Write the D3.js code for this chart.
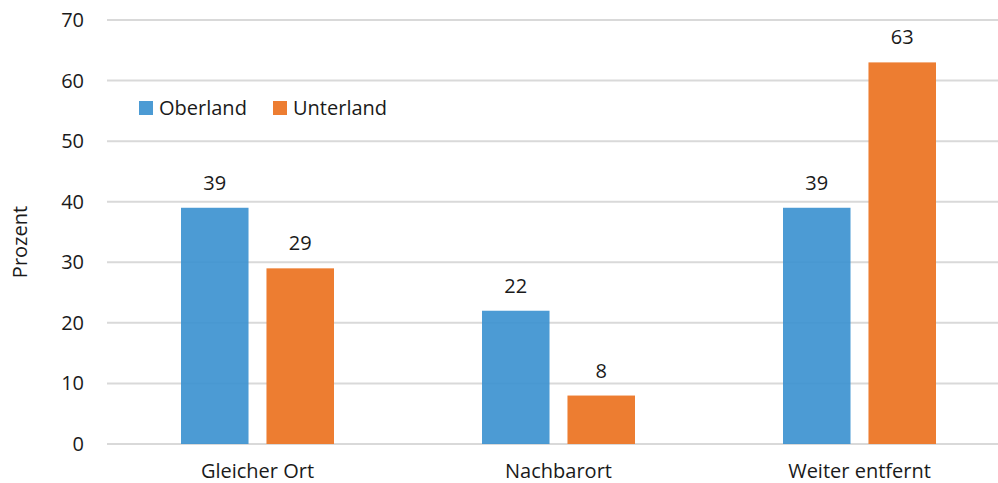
<!DOCTYPE html>
<html>
<head>
<meta charset="utf-8">
<script src="https://cdn.jsdelivr.net/npm/d3@7"></script>
<style>
  body { margin: 0; background: #fff; }
  svg text { font-family: "Open Sans", sans-serif; fill: #1a1a1a; }
</style>
</head>
<body>
<svg id="chart" width="998" height="483"></svg>
<script>
// data
var categories = ["Gleicher Ort", "Nachbarort", "Weiter entfernt"];
var seriesNames = ["Oberland", "Unterland"];
var oberland = [39, 22, 39];
var unterland = [29, 8, 63];
var yTicks = [0, 10, 20, 30, 40, 50, 60, 70];
var colors = { Oberland: "#3d92d0", Unterland: "#ed7d31" };

var svg = d3.select("#chart");
var fontSize = 20;

// plot area (right edge runs off the picture, as in the reference)
// NB: "top" clashes with window.top, hence plotTop
var plotLeft = 107, plotRight = 1010, plotTop = 20, plotBottom = 444;

var x0 = d3.scaleBand().domain(categories).range([plotLeft, plotRight]);
var x1 = d3.scaleBand().domain(seriesNames)
    .range([74, x0.bandwidth() - 74])
    .paddingInner(0.21);
var y = d3.scaleLinear().domain([0, 70]).range([plotBottom, plotTop]);

// gridlines
svg.append("g")
  .selectAll("line")
  .data(yTicks)
  .enter()
  .append("line")
    .attr("x1", plotLeft)
    .attr("x2", plotRight)
    .attr("y1", function(d) { return y(d); })
    .attr("y2", function(d) { return y(d); })
    .attr("stroke", "#d9d9d9")
    .attr("stroke-width", 2);

// y tick labels
svg.append("g")
  .selectAll("text")
  .data(yTicks)
  .enter()
  .append("text")
    .attr("x", 84)
    .attr("y", function(d) { return y(d); })
    .attr("dy", "0.35em")
    .attr("text-anchor", "end")
    .style("font-size", fontSize + "px")
    .text(function(d) { return d; });

// y axis title
svg.append("text")
  .attr("transform", "translate(27," + ((plotTop + plotBottom) / 2 + 10) + ") rotate(-90)")
  .attr("text-anchor", "middle")
  .style("font-size", fontSize + "px")
  .text("Prozent");

// rows: one per category
var rows = categories.map(function(c, i) {
  return { cat: c, values: [
    { name: "Oberland", value: oberland[i] },
    { name: "Unterland", value: unterland[i] }
  ] };
});

var groups = svg.append("g")
  .selectAll("g")
  .data(rows)
  .enter()
  .append("g")
    .attr("transform", function(d) { return "translate(" + x0(d.cat) + ",0)"; });

// blue bars are a touch see-through in the reference (gridlines show through)
groups.selectAll("rect")
  .data(function(d) { return d.values; })
  .enter()
  .append("rect")
    .attr("x", function(d) { return x1(d.name); })
    .attr("width", x1.bandwidth())
    .attr("y", function(d) { return y(d.value); })
    .attr("height", function(d) { return y(0) - y(d.value); })
    .attr("fill", function(d) { return colors[d.name]; })
    .attr("fill-opacity", function(d) { return d.name == "Oberland" ? 0.92 : 1; });

// value labels
groups.selectAll("text")
  .data(function(d) { return d.values; })
  .enter()
  .append("text")
    .attr("x", function(d) { return x1(d.name) + x1.bandwidth() / 2; })
    .attr("y", function(d) { return y(d.value) - 18; })
    .attr("text-anchor", "middle")
    .style("font-size", fontSize + "px")
    .text(function(d) { return d.value; });

// category labels
svg.append("g")
  .selectAll("text")
  .data(categories)
  .enter()
  .append("text")
    .attr("x", function(d) { return x0(d) + x0.bandwidth() / 2; })
    .attr("y", 478)
    .attr("text-anchor", "middle")
    .style("font-size", fontSize + "px")
    .text(function(d) { return d; });

// legend
var legendX = [139, 273];
var legend = svg.append("g")
  .selectAll("g")
  .data(seriesNames)
  .enter()
  .append("g")
    .attr("transform", function(d, i) { return "translate(" + legendX[i] + ",101)"; });

legend.append("rect")
  .attr("width", 14)
  .attr("height", 14)
  .attr("fill", function(d) { return colors[d]; })
  .attr("fill-opacity", function(d) { return d == "Oberland" ? 0.92 : 1; });

legend.append("text")
  .attr("x", 20)
  .attr("y", 7)
  .attr("dy", "0.35em")
  .style("font-size", fontSize + "px")
  .text(function(d) { return d; });
</script>
</body>
</html>
